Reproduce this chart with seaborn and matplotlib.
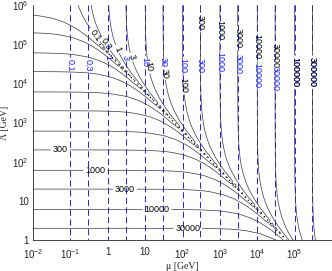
import numpy as np
import matplotlib
matplotlib.use('Agg')
import matplotlib.pyplot as plt
import seaborn as sns

# contour levels (same set for the black and the blue contours)
levels = [0.1, 0.3, 1, 3, 10, 30, 100, 300, 1000, 3000, 10000, 30000, 100000, 300000]
# crossover: the dotted line is mu * Lambda = const [GeV^2]
mu_lambda = 6e4
dotted_lam_max = 1e5
mu_lim = (1e-2, 1e6)
lam_lim = (1, 1e6)
# the original grid was coarse: points per decade
grid_per_decade = 10

# black contour label spots (mu, Lambda)
black_lab_mu = [0.45, 0.95, 1.55, 4.4, 9.9, 34, 96, 275, 940, 2800, 9800, 2.9e4, 1.0e5, 3.1e5,
                0.053, 0.46, 2.9, 21, 138]
black_lab_lam = [1.7e5, 1.07e5, 7e4, 4.7e4, 2.6e4, 1.8e4, 9e3, 3.6e5, 2.3e5, 1.4e5, 8.5e4, 5.2e4, 1.95e4, 1.95e4,
                 200, 54, 19, 5.9, 1.9]
# blue labels sit on the vertical lines mu = level
blue_lab_lam = [2.9e4, 2.9e4, 4.7e4, 4.7e4, 3.5e4, 3.5e4, 2.9e4, 2.9e4, 3.6e4, 3.2e4, 1.6e4, 1.35e4, 1.95e4, 1.95e4]

xticks = [1e-2, 1e-1, 1, 10, 1e2, 1e3, 1e4, 1e5]
xticklabels = ['$10^{-2}$', '$10^{-1}$', '1', '10', '$10^{2}$', '$10^{3}$', '$10^{4}$', '$10^{5}$']
yticks = [1, 10, 1e2, 1e3, 1e4, 1e5, 1e6]
yticklabels = ['1', '10', '$10^{2}$', '$10^{3}$', '$10^{4}$', '$10^{5}$', '$10^{6}$']

sns.set_style('white')
plt.rcParams['font.family'] = ['Liberation Sans', 'DejaVu Sans']
plt.rcParams['mathtext.default'] = 'regular'
plt.rcParams['lines.scale_dashes'] = False

nx = int(np.log10(mu_lim[1] / mu_lim[0]) * grid_per_decade) + 1
ny = int(np.log10(lam_lim[1] / lam_lim[0]) * grid_per_decade) + 1
mu = np.logspace(np.log10(mu_lim[0]), np.log10(mu_lim[1]), nx)
lam = np.logspace(np.log10(lam_lim[0]), np.log10(lam_lim[1]), ny)
M, L = np.meshgrid(mu, lam)
F = M - mu_lambda / L
F_dotted = np.ma.masked_where(L > dotted_lam_max, F)

fig = plt.figure(figsize=(3.32, 2.71), dpi=100)
ax = fig.add_axes([0.0994, 0.114, 0.9006, 0.8676])
ax.set_xscale('log')
ax.set_yscale('log')

fmt = lambda v: f'{v:g}'

cs_blue = ax.contour(M, L, M, levels=levels, colors='#2020ff', linewidths=0.7,
                     linestyles=[(0, (4.5, 2.5))])
cs_black = ax.contour(M, L, np.abs(F), levels=levels, colors='#3a3a3a', linewidths=0.5)
ax.contour(M, L, F_dotted, levels=[0], colors='black', linewidths=1.0, linestyles=[(0, (0.8, 2.5))])

ax.clabel(cs_blue, manual=list(zip(levels, blue_lab_lam)), inline=True, fmt=fmt,
          fontsize=6.5, inline_spacing=2)
black_texts = ax.clabel(cs_black, manual=list(zip(black_lab_mu, black_lab_lam)), inline=True, fmt=fmt,
                        fontsize=6.5, inline_spacing=2)
for t in black_texts:
    t.set_color('black')

ax.set_xlim(*mu_lim)
ax.set_ylim(*lam_lim)
ax.set_xticks(xticks)
ax.set_xticklabels(xticklabels)
ax.set_yticks(yticks)
ax.set_yticklabels(yticklabels)
ax.minorticks_off()
ax.tick_params(direction='in', length=2.5, width=0.6, labelsize=7, colors='#262626')
ax.tick_params(axis='x', pad=5)
ax.tick_params(axis='y', pad=3)
for side in ['top', 'right']:
    ax.spines[side].set_visible(False)
for side in ['left', 'bottom']:
    ax.spines[side].set_color('#262626')
    ax.spines[side].set_linewidth(0.6)

serif = ['Liberation Serif', 'DejaVu Serif']
ax.set_xlabel('μ [GeV]', family=serif, fontsize=7, labelpad=1)
ax.set_ylabel('Λ [GeV]', family=serif, fontsize=7, labelpad=2)

fig.savefig('out.png', dpi=100)
